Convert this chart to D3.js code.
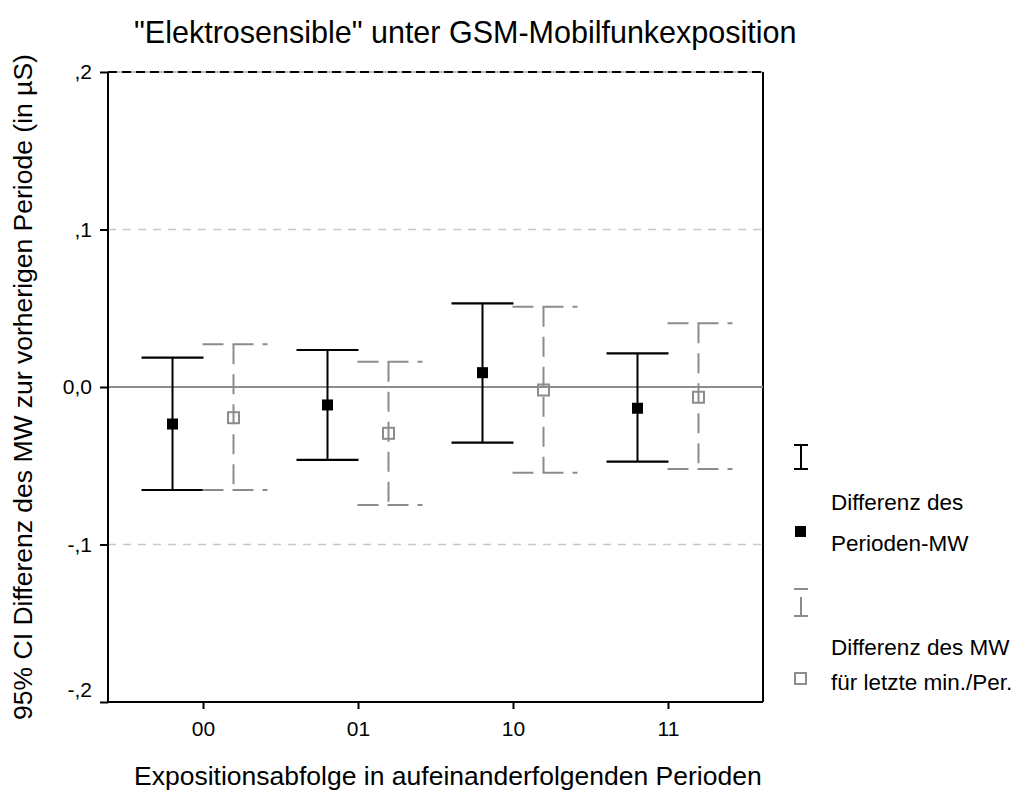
<!DOCTYPE html>
<html><head><meta charset="utf-8">
<script src="https://cdn.jsdelivr.net/npm/d3@7"></script>
<style>body{margin:0;background:#fff;} text{font-family:"Liberation Sans",Arial,sans-serif;}</style>
</head><body>
<svg id="c" width="1015" height="810"></svg>
<script>
const categories = ["00","01","10","11"];
const periodMean = [-0.0235, -0.0114, 0.0091, -0.0135];
const periodLow  = [-0.0654, -0.0463, -0.0353, -0.0474];
const periodHigh = [0.0186, 0.0235, 0.0531, 0.0214];
const lastMean = [-0.0195, -0.0294, -0.0019, -0.0065];
const lastLow  = [-0.0654, -0.0749, -0.0544, -0.0520];
const lastHigh = [0.0271, 0.0161, 0.0510, 0.0404];
const yTicks = [0.2, 0.1, 0, -0.1, -0.2];
const yTickLabels = [",2", ",1", "0,0", "-,1", "-,2"];
const gridValues = [0.1, -0.1];
const seriesNames = ["period","last"];
const legendLabels = [["Differenz des","Perioden-MW"],["Differenz des MW","für letzte min./Per."]];

const svg = d3.select("#c");
const L=108, R=763, T=72, B=702;
const x = d3.scalePoint().domain(categories).range([L,R]).padding(0.613);
const off = d3.scalePoint().domain(seriesNames).range([-30.5,30.5]);
const y = d3.scaleLinear().domain([-0.2,0.2]).range([B,T]);
const capW = 31;
const black="#000", gray="#8c8c8c";
const FONT = "Liberation Sans, Arial, sans-serif";

// title
svg.append("text").attr("x",134).attr("y",43).attr("font-size",30.5).text('"Elektrosensible" unter GSM-Mobilfunkexposition');

// gridlines
svg.selectAll(".grid").data(gridValues).enter().append("line")
  .attr("x1",L).attr("x2",R).attr("y1",d=>y(d)).attr("y2",d=>y(d))
  .attr("stroke","#c8c8c8").attr("stroke-width",1.5).attr("stroke-dasharray","8,7");

// top border
svg.append("line").attr("x1",L).attr("x2",R).attr("y1",y(0.2)).attr("y2",y(0.2)).attr("stroke","#c0c0c0").attr("stroke-width",2);
svg.append("line").attr("x1",L).attr("x2",R).attr("y1",y(0.2)).attr("y2",y(0.2)).attr("stroke","#000").attr("stroke-width",2).attr("stroke-dasharray","9,5");
// right border
svg.append("line").attr("x1",R).attr("x2",R).attr("y1",T).attr("y2",B).attr("stroke","#000").attr("stroke-width",2);

// zero line
svg.append("line").attr("x1",L).attr("x2",R).attr("y1",y(0)).attr("y2",y(0)).attr("stroke","#8c8c8c").attr("stroke-width",2);

// y axis
const yAxis = svg.append("g").attr("transform",`translate(${L},0)`)
  .call(d3.axisLeft(y).tickValues(yTicks).tickSize(8).tickPadding(8).tickFormat((d,i)=>yTickLabels[i]));
yAxis.select(".domain").attr("stroke-width",2).attr("d",`M0,${T}V${B}`);
yAxis.selectAll(".tick line").attr("stroke-width",2);
yAxis.selectAll(".tick text").attr("font-size",21).attr("fill","#000").attr("font-family",FONT)
  .attr("dy",(d,i)=> i===yTicks.length-1 ? "-0.25em" : "0.32em");

// x axis
const xAxis = svg.append("g").attr("transform",`translate(0,${B})`)
  .call(d3.axisBottom(x).tickSize(7).tickPadding(12));
xAxis.select(".domain").attr("stroke-width",2).attr("d",`M${L},0H${R}`);
xAxis.selectAll(".tick line").attr("stroke-width",2);
xAxis.selectAll(".tick text").attr("font-size",21).attr("fill","#000").attr("font-family",FONT);

// axis titles
svg.append("text").attr("transform",`translate(32,${(T+B)/2}) rotate(-90)`).attr("text-anchor","middle").attr("font-size",26.5)
  .text("95% CI Differenz des MW zur vorherigen Periode (in µS)");
svg.append("text").attr("x",134).attr("y",785).attr("font-size",26.5).text("Expositionsabfolge in aufeinanderfolgenden Perioden");

// error bars
const pd = categories.map((c,i)=>({c,m:periodMean[i],lo:periodLow[i],hi:periodHigh[i]}));
const ld = categories.map((c,i)=>({c,m:lastMean[i],lo:lastLow[i],hi:lastHigh[i]}));
const gP = svg.append("g");
pd.forEach(d=>{
  const cx = x(d.c)+off("period");
  gP.append("line").attr("x1",cx).attr("x2",cx).attr("y1",y(d.hi)).attr("y2",y(d.lo)).attr("stroke",black).attr("stroke-width",2);
  [d.hi,d.lo].forEach(v=>gP.append("line").attr("x1",cx-capW).attr("x2",cx+capW).attr("y1",y(v)).attr("y2",y(v)).attr("stroke",black).attr("stroke-width",2.2));
  gP.append("rect").attr("x",cx-5.5).attr("y",y(d.m)-5.5).attr("width",11).attr("height",11).attr("fill","#000");
});
const gL = svg.append("g");
ld.forEach(d=>{
  const cx = x(d.c)+off("last");
  gL.append("line").attr("x1",cx).attr("x2",cx).attr("y1",y(d.hi)).attr("y2",y(d.lo)).attr("stroke",gray).attr("stroke-width",2).attr("stroke-dasharray","20,10");
  [d.hi,d.lo].forEach(v=>gL.append("line").attr("x1",cx-capW).attr("x2",cx+capW+3).attr("y1",y(v)).attr("y2",y(v)).attr("stroke",gray).attr("stroke-width",2).attr("stroke-dasharray","21,9"));
  gL.append("rect").attr("x",cx-5.5).attr("y",y(d.m)-5.5).attr("width",11).attr("height",11).attr("fill","none").attr("stroke",gray).attr("stroke-width",2);
});

// legend
const lg = svg.append("g");
const lx = 801;
lg.append("line").attr("x1",lx).attr("x2",lx).attr("y1",445).attr("y2",469).attr("stroke",black).attr("stroke-width",2);
[445,469].forEach(v=>lg.append("line").attr("x1",lx-7).attr("x2",lx+7).attr("y1",v).attr("y2",v).attr("stroke",black).attr("stroke-width",2));
lg.append("rect").attr("x",lx-6).attr("y",526).attr("width",11).attr("height",11).attr("fill","#000");
lg.append("line").attr("x1",lx-7).attr("x2",lx+7).attr("y1",589).attr("y2",589).attr("stroke",gray).attr("stroke-width",2);
lg.append("line").attr("x1",lx).attr("x2",lx).attr("y1",597).attr("y2",616).attr("stroke",gray).attr("stroke-width",2);
lg.append("line").attr("x1",lx-7).attr("x2",lx+7).attr("y1",616).attr("y2",616).attr("stroke",gray).attr("stroke-width",2);
lg.append("rect").attr("x",lx-6).attr("y",673).attr("width",11).attr("height",11).attr("fill","none").attr("stroke",gray).attr("stroke-width",2);
const ly = [[510,551],[655,690]];
legendLabels.forEach((lines,i)=>lines.forEach((t,j)=>lg.append("text").attr("x",831).attr("y",ly[i][j]).attr("font-size",22.5).text(t)));
</script>
</body></html>
